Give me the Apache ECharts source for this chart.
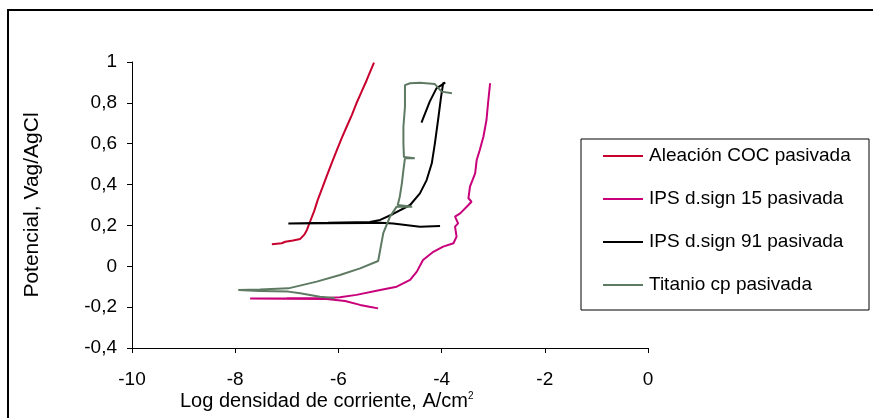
<!DOCTYPE html>
<html>
<head>
<meta charset="utf-8">
<script src="https://cdn.jsdelivr.net/npm/echarts@6/dist/echarts.min.js"></script>
<style>
html,body{margin:0;padding:0;background:#fff;}
#c{width:873px;height:418px;}
</style>
</head>
<body>
<div id="c"></div>
<script>
// Series names
const seriesNames = ['Aleación COC pasivada', 'IPS d.sign 15 pasivada', 'IPS d.sign 91 pasivada', 'Titanio cp pasivada'];
const yTicks = [-0.4, -0.2, 0, 0.2, 0.4, 0.6, 0.8, 1];
const xTicks = [-10, -8, -6, -4, -2, 0];

// [log i, E] pairs
const cocData = [
  [-7.29, 0.108], [-7.10, 0.113], [-7.03, 0.120], [-6.88, 0.126], [-6.74, 0.134], [-6.66, 0.155],
  [-6.61, 0.178], [-6.55, 0.218], [-6.47, 0.270], [-6.40, 0.325], [-6.31, 0.385], [-6.23, 0.439],
  [-6.13, 0.505], [-6.03, 0.569], [-5.94, 0.625], [-5.84, 0.683], [-5.74, 0.740], [-5.65, 0.798],
  [-5.55, 0.855], [-5.45, 0.912], [-5.38, 0.955], [-5.31, 0.997]
];
const ips15Data = [
  [-5.23, -0.206], [-5.40, -0.198], [-5.58, -0.189], [-5.87, -0.170], [-6.23, -0.160], [-7.00, -0.159],
  [-7.71, -0.158], [-7.00, -0.157], [-6.23, -0.155], [-5.97, -0.152], [-5.65, -0.140], [-5.19, -0.116],
  [-4.87, -0.100], [-4.61, -0.067], [-4.48, -0.026], [-4.36, 0.031], [-4.16, 0.071], [-3.97, 0.096],
  [-3.77, 0.113], [-3.71, 0.145], [-3.74, 0.194], [-3.68, 0.210], [-3.74, 0.243], [-3.64, 0.259],
  [-3.48, 0.300], [-3.42, 0.316], [-3.48, 0.333], [-3.45, 0.390], [-3.35, 0.455], [-3.32, 0.520],
  [-3.26, 0.569], [-3.19, 0.634], [-3.13, 0.716], [-3.10, 0.798], [-3.06, 0.896]
];
const ips91Data = [
  [-4.03, 0.197], [-4.42, 0.194], [-4.94, 0.210], [-5.19, 0.213], [-5.39, 0.212], [-6.20, 0.211],
  [-6.97, 0.210], [-6.20, 0.213], [-5.39, 0.217], [-5.19, 0.227], [-4.94, 0.256], [-4.61, 0.300],
  [-4.42, 0.357], [-4.29, 0.422], [-4.19, 0.504], [-4.13, 0.602], [-4.06, 0.732], [-4.01, 0.830],
  [-3.97, 0.896], [-3.93, 0.899], [-4.10, 0.871], [-4.23, 0.806], [-4.39, 0.703]
];
const titanioData = [
  [-6.07, -0.155], [-6.36, -0.149], [-6.74, -0.132], [-6.97, -0.124], [-7.52, -0.121], [-7.94, -0.116],
  [-7.52, -0.114], [-6.97, -0.108], [-6.42, -0.075], [-5.97, -0.043], [-5.58, -0.010], [-5.23, 0.026],
  [-5.19, 0.080], [-5.13, 0.162], [-5.00, 0.243], [-4.87, 0.292], [-4.57, 0.292], [-4.85, 0.300],
  [-4.81, 0.341], [-4.77, 0.406], [-4.74, 0.471], [-4.71, 0.529], [-4.52, 0.529], [-4.73, 0.535],
  [-4.74, 0.602], [-4.74, 0.683], [-4.71, 0.781], [-4.71, 0.887], [-4.61, 0.896], [-4.42, 0.899],
  [-4.13, 0.892], [-4.00, 0.855], [-3.80, 0.847]
];
const colors = ['#C8002E', '#C8007A', '#000000', '#5E7A62'];
const allData = [cocData, ips15Data, ips91Data, titanioData];

const chart = echarts.init(document.getElementById('c'));
const font = '"Liberation Sans", Arial, sans-serif';
chart.setOption({
  animation: false,
  backgroundColor: '#fff',
  grid: { left: 132, right: 225, top: 62, bottom: 70 },
  xAxis: {
    type: 'value', min: -10, max: 0, interval: 2,
    axisLine: { onZero: false, lineStyle: { color: '#000', width: 1 } },
    axisTick: { show: true, length: 5, lineStyle: { color: '#000' } },
    axisLabel: { color: '#000', fontSize: 19, fontFamily: font, margin: 22 },
    splitLine: { show: false }
  },
  yAxis: {
    type: 'value', min: -0.4, max: 1, interval: 0.2,
    axisLine: { show: true, onZero: false, lineStyle: { color: '#000', width: 1 } },
    axisTick: { show: true, length: 5, lineStyle: { color: '#000' } },
    axisLabel: {
      color: '#000', fontSize: 19, fontFamily: font, margin: 15,
      formatter: v => { const r = Math.round(v * 10) / 10; return String(r).replace('.', ','); }
    },
    splitLine: { show: false }
  },
  legend: {
    orient: 'vertical', left: 598, top: 141, itemGap: 23,
    itemWidth: 40, itemHeight: 2, icon: 'rect',
    textStyle: { color: '#000', fontSize: 19, fontFamily: font, lineHeight: 20, padding: [0, 0, 0, 1] },
    data: seriesNames
  },
  graphic: [
    { type: 'rect', shape: { x: 8, y: 10, width: 900, height: 500 }, style: { fill: 'none', stroke: '#000', lineWidth: 2 }, silent: true, z: 0 },
    { type: 'rect', shape: { x: 581, y: 139, width: 288, height: 171 }, style: { fill: 'none', stroke: '#000', lineWidth: 1 }, silent: true },
    {
      type: 'text', left: 180, top: 391,
      style: {
        text: '{a|Log densidad de corriente, A/cm}{s|2}',
        rich: {
          a: { fontSize: 20, fontFamily: font, fill: '#000' },
          s: { fontSize: 10, fontFamily: font, fill: '#000', verticalAlign: 'top', padding: [0, 0, 10, 0] }
        }
      }
    },
    {
      type: 'text', x: 32, y: 205, rotation: Math.PI / 2,
      style: { text: 'Potencial, Vag/AgCl', fontSize: 21, fontFamily: font, fill: '#000', align: 'center', verticalAlign: 'middle' }
    }
  ],
  series: seriesNames.map((n, i) => ({
    name: n, type: 'line', data: allData[i], showSymbol: false, symbol: 'none',
    lineStyle: { color: colors[i], width: 2 }, itemStyle: { color: colors[i] }, z: 3 + i
  }))
});
</script>
</body>
</html>
